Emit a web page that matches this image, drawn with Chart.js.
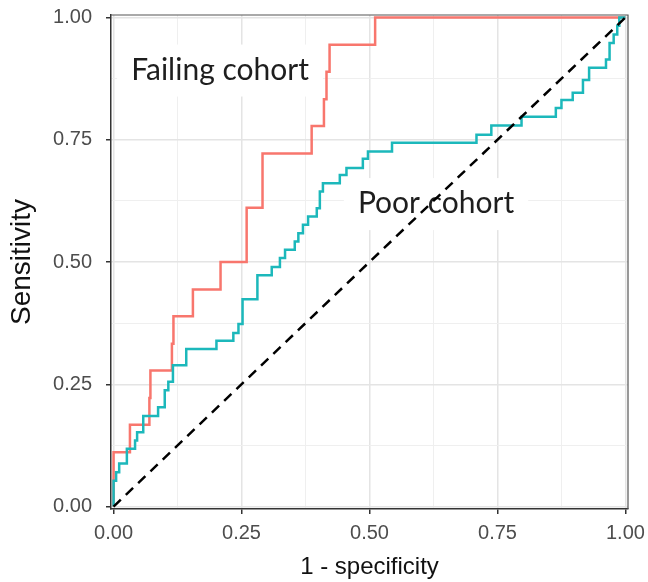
<!DOCTYPE html>
<html>
<head>
<meta charset="utf-8">
<script src="https://cdn.jsdelivr.net/npm/chart.js@4"></script>
<style>
  body { margin: 0; background: #fff; }
  canvas { display: block; }
</style>
</head>
<body>
<canvas id="roc" width="648" height="582"></canvas>
<script>
// ROC curve data (1 - specificity, sensitivity)
const failingFpr = [0, 0, 0.032, 0.070, 0.072, 0.114, 0.117, 0.155, 0.209, 0.260, 0.291, 0.387, 0.411, 0.416, 0.422, 0.511, 1.0];
const failingTpr = [0, 0.111, 0.167, 0.222, 0.278, 0.333, 0.389, 0.444, 0.5, 0.611, 0.722, 0.778, 0.833, 0.889, 0.944, 1.0, 1.0];

const poorFpr = [0, 0, 0.005, 0.011, 0.026, 0.042, 0.046, 0.058, 0.087, 0.100, 0.107, 0.116, 0.142, 0.201, 0.234,
  0.244, 0.252, 0.281, 0.309, 0.325, 0.335, 0.354, 0.361, 0.370, 0.380, 0.397, 0.403, 0.409, 0.442, 0.455,
  0.487, 0.497, 0.544, 0.709, 0.738, 0.797, 0.864, 0.875, 0.897, 0.917, 0.929, 0.962, 0.969, 0.977, 0.984, 0.988, 1.0];
const poorTpr = [0, 0.053, 0.070, 0.088, 0.118, 0.135, 0.152, 0.185, 0.203, 0.238, 0.255, 0.289, 0.322, 0.339, 0.355,
  0.373, 0.424, 0.473, 0.490, 0.508, 0.525, 0.542, 0.559, 0.576, 0.593, 0.610, 0.644, 0.661, 0.678, 0.692,
  0.711, 0.726, 0.744, 0.760, 0.779, 0.797, 0.815, 0.831, 0.846, 0.872, 0.897, 0.914, 0.948, 0.965, 0.983, 1.0, 1.0];

const chanceX = [0, 1];
const chanceY = [0, 1];

const majorTicks = [0, 0.25, 0.5, 0.75, 1];
const minorTicks = [0.125, 0.375, 0.625, 0.875];

const cohortNames = ['Failing cohort', 'Poor cohort'];
const cohortLabelX = [0.208, 0.630];
const cohortLabelY = [0.873, 0.600];

const toPoints = (xs, ys) => xs.map((x, i) => ({ x: x, y: ys[i] }));
const isMajor = v => majorTicks.some(m => Math.abs(m - v) < 1e-6);

// white boxes + text for the two cohort labels, drawn over the grid but under the lines
const cohortLabels = {
  id: 'cohortLabels',
  beforeDatasetsDraw(chart) {
    const { ctx, scales: { x, y } } = chart;
    ctx.save();
    ctx.font = '30px Lato';
    ctx.textAlign = 'center';
    ctx.textBaseline = 'alphabetic';
    cohortNames.forEach((name, i) => {
      const cx = x.getPixelForValue(cohortLabelX[i]);
      const by = y.getPixelForValue(cohortLabelY[i]);
      const w = ctx.measureText(name).width + 28;
      ctx.fillStyle = '#ffffff';
      ctx.fillRect(cx - w / 2, by - 35, w, 52);
      ctx.fillStyle = '#1e1e1e';
      ctx.fillText(name, cx, by);
    });
    ctx.restore();
  }
};

// top and right sides of the panel border
const panelBorder = {
  id: 'panelBorder',
  afterDraw(chart) {
    const { ctx, chartArea: a } = chart;
    ctx.save();
    ctx.strokeStyle = '#555';
    ctx.lineWidth = 1.2;
    ctx.beginPath();
    ctx.moveTo(a.left, a.top);
    ctx.lineTo(a.right, a.top);
    ctx.lineTo(a.right, a.bottom);
    ctx.stroke();
    ctx.restore();
  }
};

function axisOptions(title, isX) {
  return {
    type: 'linear',
    min: -0.005,
    max: 1.005,
    afterBuildTicks: scale => {
      scale.ticks = majorTicks.concat(minorTicks).sort((a, b) => a - b).map(v => ({ value: v }));
    },
    afterFit: scale => {
      if (isX) scale.height = 73; else scale.width = 111;
      // let the end labels overflow instead of shrinking the panel
      scale.paddingTop = 0;
      scale.paddingBottom = 0;
      scale.paddingLeft = 0;
      scale.paddingRight = 0;
    },
    grid: {
      color: ctx => isMajor(ctx.tick.value) ? '#e4e4e4' : '#efefef',
      lineWidth: ctx => isMajor(ctx.tick.value) ? 1.5 : 1,
      tickColor: ctx => isMajor(ctx.tick.value) ? '#333' : 'rgba(0,0,0,0)',
      tickWidth: 1.5,
      tickLength: 5,
      drawTicks: true
    },
    border: { display: true, color: '#333', width: 1.5 },
    ticks: {
      autoSkip: false,
      maxRotation: 0,
      padding: isX ? 7 : 14,
      color: '#4d4d4d',
      font: { family: 'Liberation Sans', size: 20 },
      callback: v => isMajor(v) ? v.toFixed(2) : ''
    },
    title: {
      display: true,
      text: title,
      color: '#111',
      font: { family: 'Liberation Sans', size: isX ? 24 : 28 },
      padding: isX ? 0 : 5
    }
  };
}

new Chart(document.getElementById('roc'), {
  type: 'line',
  data: {
    datasets: [
      {
        label: 'chance',
        data: toPoints(chanceX, chanceY),
        borderColor: '#000',
        borderWidth: 2.5,
        borderDash: [10, 7],
        pointRadius: 0,
        order: 0
      },
      {
        label: 'Poor cohort',
        data: toPoints(poorFpr, poorTpr),
        borderColor: '#1cb8bb',
        borderWidth: 2.5,
        stepped: 'before',
        pointRadius: 0,
        order: 1
      },
      {
        label: 'Failing cohort',
        data: toPoints(failingFpr, failingTpr),
        borderColor: '#f8766d',
        borderWidth: 2.5,
        stepped: 'before',
        pointRadius: 0,
        order: 2
      }
    ]
  },
  options: {
    responsive: false,
    animation: false,
    layout: { padding: { top: 15, right: 20, left: 0, bottom: 0 } },
    plugins: {
      legend: { display: false },
      tooltip: { enabled: false }
    },
    scales: {
      x: axisOptions('1 - specificity', true),
      y: axisOptions('Sensitivity', false)
    }
  },
  plugins: [cohortLabels, panelBorder]
});
</script>
</body>
</html>
